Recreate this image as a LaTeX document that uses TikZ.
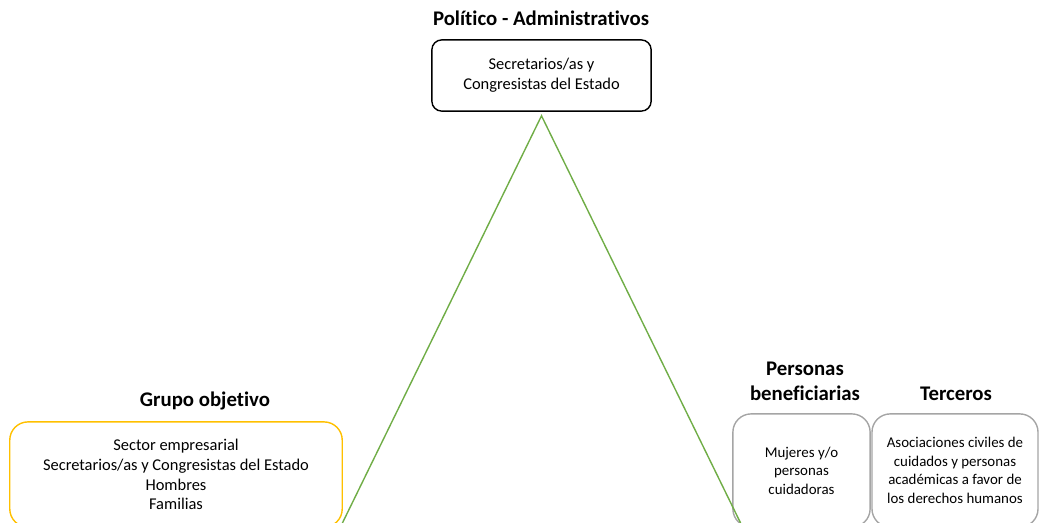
\documentclass[tikz,border=0pt]{standalone}
\usepackage{fontspec}
\setmainfont{Carlito}[Ligatures=NoCommon]
\usetikzlibrary{calc}
\definecolor{naranja}{HTML}{FFC000}
\definecolor{verde}{HTML}{70AD47}
\definecolor{gris}{HTML}{A5A5A5}

\begin{document}
\begin{tikzpicture}[x=.025cm, y=-.025cm,
caja/.style={draw, line width=1pt, rounded corners=13pt, align=center, inner sep=0, font=\fontsize{11.7}{14}\selectfont},
chica/.style={font=\fontsize{10.6}{13.2}\selectfont},
titulo/.style={inner sep=0, align=center, font=\bfseries\fontsize{14.8}{17.8}\selectfont},
lado/.style={draw=verde, line width=1pt}]
\clip (0,0) rectangle (1040,522);
%%%%%%%%%% ARRIBA %%%%%%%%%%%
\node[titulo] (tpol) at (541,18) {Político - Administrativos};
\node[caja, rounded corners=7pt, minimum width=5.48cm, minimum height=1.78cm] (pol) at (541.5,75.5) {Secretarios/as y\\Congresistas del Estado};
%%%%%%%%%% IZQUIERDA %%%%%%%%%%%
\node[titulo] (tgrupo) at (205,401) {Grupo objetivo};
\node[caja, draw=naranja, minimum width=8.31cm, minimum height=2.63cm] (grupo) at (176,474.5) {Sector empresarial\\Secretarios/as y Congresistas del Estado\\Hombres\\Familias};
%%%%%%%%%% DERECHA %%%%%%%%%%%
\node[titulo] (tbenef) at (805,381) {Personas\\beneficiarias};
\node[caja, chica, draw=gris, minimum width=3.43cm, minimum height=2.83cm] (benef) at (801.5,470.5) {Mujeres y/o\\personas\\cuidadoras};
\node[titulo] (tterc) at (956,394) {Terceros};
\node[caja, chica, draw=gris, minimum width=4.15cm, minimum height=2.83cm] (terc) at (955,470.5) {Asociaciones civiles de\\cuidados y personas\\académicas a favor de\\los derechos humanos};
%%%%%%%%%% TRIANGULO %%%%%%%%%%%
\coordinate (cima) at ($(pol.south)+(0,4)$);
\coordinate (pieizq) at (339,530);
\coordinate (pieder) at (744,530);
\draw[lado] (pieizq) -- (cima) -- (pieder);
\end{tikzpicture}
\end{document}
